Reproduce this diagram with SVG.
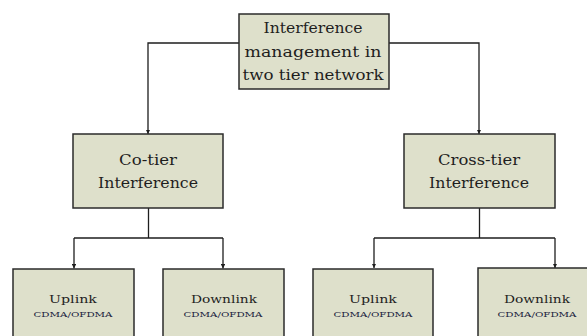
<svg xmlns="http://www.w3.org/2000/svg" width="587" height="336" viewBox="0 0 587 336">
<style>
.box{fill:#dee0cb;stroke:#2b2b2b;stroke-width:1.5}
.t{font-family:"DejaVu Serif","Liberation Serif",serif;fill:#1e1e1e;text-anchor:middle}
.big{font-size:15px}
.mid{font-size:14.5px}
.sm{font-size:11.5px}
.xs{font-size:8px;fill:#1c2440}
.c{fill:none;stroke:#1e1e1e;stroke-width:1.3}
</style>
<defs>
<marker id="ah" viewBox="0 0 10 10" refX="10" refY="5" markerWidth="4.5" markerHeight="4.5" orient="auto" markerUnits="userSpaceOnUse">
<path d="M0,0 L10,5 L0,10 z" fill="#1e1e1e"/>
</marker>
</defs>
<rect width="587" height="336" fill="#ffffff"/>
<g id="connectors">
<path class="c" d="M239,43 H148 V134" marker-end="url(#ah)"/>
<path class="c" d="M389,43 H479 V134" marker-end="url(#ah)"/>
<path class="c" d="M148.5,208 V238"/>
<path class="c" d="M74,238 H223"/>
<path class="c" d="M74,238 V268.5" marker-end="url(#ah)"/>
<path class="c" d="M223,238 V268.5" marker-end="url(#ah)"/>
<path class="c" d="M479.5,208 V238"/>
<path class="c" d="M374,238 H555"/>
<path class="c" d="M374,238 V268" marker-end="url(#ah)"/>
<path class="c" d="M555,238 V268" marker-end="url(#ah)"/>
</g>
<g id="root">
<rect class="box" x="239" y="14" width="150" height="75"/>
<text class="t big" x="313" y="33" textLength="99" lengthAdjust="spacingAndGlyphs">Interference</text>
<text class="t big" x="313" y="57" textLength="137" lengthAdjust="spacingAndGlyphs">management in</text>
<text class="t big" x="313" y="80" textLength="141" lengthAdjust="spacingAndGlyphs">two tier network</text>
</g>
<g id="cotier">
<rect class="box" x="73" y="134" width="150" height="74"/>
<text class="t mid" x="148" y="165" textLength="58" lengthAdjust="spacingAndGlyphs">Co-tier</text>
<text class="t mid" x="148" y="188" textLength="100" lengthAdjust="spacingAndGlyphs">Interference</text>
</g>
<g id="crosstier">
<rect class="box" x="404" y="134" width="151" height="74"/>
<text class="t mid" x="479" y="165" textLength="82" lengthAdjust="spacingAndGlyphs">Cross-tier</text>
<text class="t mid" x="479" y="188" textLength="100" lengthAdjust="spacingAndGlyphs">Interference</text>
</g>
<g id="co-uplink">
<rect class="box" x="13" y="269" width="121" height="80"/>
<text class="t sm" x="73" y="303" textLength="48" lengthAdjust="spacingAndGlyphs">Uplink</text>
<text class="t xs" x="73" y="317" textLength="79" lengthAdjust="spacingAndGlyphs">CDMA/OFDMA</text>
</g>
<g id="co-downlink">
<rect class="box" x="163" y="269" width="121" height="80"/>
<text class="t sm" x="224" y="303" textLength="66" lengthAdjust="spacingAndGlyphs">Downlink</text>
<text class="t xs" x="223" y="317" textLength="79" lengthAdjust="spacingAndGlyphs">CDMA/OFDMA</text>
</g>
<g id="cross-uplink">
<rect class="box" x="313" y="269" width="120" height="80"/>
<text class="t sm" x="373" y="303" textLength="48" lengthAdjust="spacingAndGlyphs">Uplink</text>
<text class="t xs" x="373" y="317" textLength="79" lengthAdjust="spacingAndGlyphs">CDMA/OFDMA</text>
</g>
<g id="cross-downlink">
<rect class="box" x="478" y="268" width="121" height="80"/>
<text class="t sm" x="537" y="303" textLength="66" lengthAdjust="spacingAndGlyphs">Downlink</text>
<text class="t xs" x="537" y="317" textLength="79" lengthAdjust="spacingAndGlyphs">CDMA/OFDMA</text>
</g>
</svg>
